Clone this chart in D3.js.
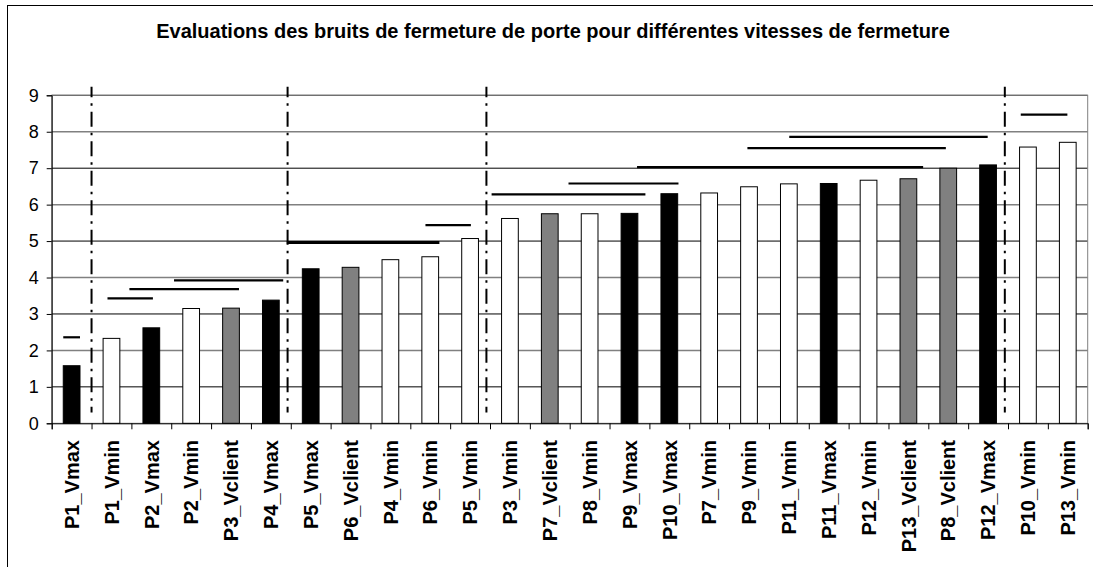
<!DOCTYPE html>
<html>
<head>
<meta charset="utf-8">
<script src="https://cdnjs.cloudflare.com/ajax/libs/d3/7.8.5/d3.min.js"></script>
<style>
  body { margin: 0; background: #fff; }
  text { font-family: Arial, "Liberation Sans", sans-serif; }
</style>
</head>
<body>
<script>
var labels = ["P1_Vmax", "P1_Vmin", "P2_Vmax", "P2_Vmin", "P3_Vclient", "P4_Vmax",
    "P5_Vmax", "P6_Vclient", "P4_Vmin", "P6_Vmin", "P5_Vmin", "P3_Vmin", "P7_Vclient",
    "P8_Vmin", "P9_Vmax", "P10_Vmax", "P7_Vmin", "P9_Vmin", "P11_Vmin", "P11_Vmax",
    "P12_Vmin", "P13_Vclient", "P8_Vclient", "P12_Vmax", "P10_Vmin", "P13_Vmin"];

var values = [1.58, 2.33, 2.62, 3.15, 3.16, 3.38,
    4.24, 4.28, 4.49, 4.57, 5.07, 5.62, 5.75,
    5.75, 5.76, 6.30, 6.32, 6.49, 6.57, 6.58,
    6.67, 6.71, 7.00, 7.09, 7.58, 7.71];

var yTicks = [0, 1, 2, 3, 4, 5, 6, 7, 8, 9];

// groups of equivalent scores: [start, end] in bar positions, and level
var groupStart = [0.29, 1.40, 1.95, 3.07, 5.90, 9.38, 11.04, 12.97, 14.69, 17.46, 18.51, 24.32];
var groupEnd   = [0.71, 2.54, 4.70, 5.81, 9.73, 10.52, 14.90, 15.73, 21.87, 22.44, 23.49, 25.49];
var groupLevel = [2.36, 3.43, 3.68, 3.92, 4.96, 5.44, 6.28, 6.58, 7.03, 7.55, 7.86, 8.47];

// dash-dot separators, in bar positions
var separators = [1.0, 5.92, 10.91, 23.92];

var title = "Evaluations des bruits de fermeture de porte pour différentes vitesses de fermeture";

var plotLeft = 51.7, plotRight = 1087.7, plotTop = 95.3, plotBottom = 423.3;

var svg = d3.select("body").append("svg")
    .attr("width", 1093)
    .attr("height", 567);

// outer chart frame (runs off the picture on the right and bottom)
svg.append("rect")
    .attr("x", 7.5)
    .attr("y", 5.5)
    .attr("width", 1200)
    .attr("height", 700)
    .attr("fill", "none")
    .attr("stroke", "#000");

svg.append("text")
    .attr("x", 553)
    .attr("y", 38)
    .attr("text-anchor", "middle")
    .attr("font-size", 20)
    .attr("font-weight", "bold")
    .text(title);

var x = d3.scaleBand()
    .domain(labels)
    .range([plotLeft, plotRight])
    .paddingInner(0.58)
    .paddingOuter(0.29);

var xPos = d3.scaleLinear()
    .domain([0, labels.length])
    .range([plotLeft, plotRight]);

var y = d3.scaleLinear()
    .domain([0, 9])
    .range([plotBottom, plotTop]);

// gridlines
svg.selectAll("line.grid")
    .data(yTicks.slice(1))
    .enter().append("line")
    .attr("class", "grid")
    .attr("x1", plotLeft)
    .attr("x2", plotRight)
    .attr("y1", function(d){return y(d);})
    .attr("y2", function(d){return y(d);})
    .attr("stroke", function(d){return d % 2 == 0 ? "#808080" : "#000";})
    .attr("stroke-width", function(d){return d % 2 == 0 ? 1.5 : 1;});

// plot area border
svg.append("rect")
    .attr("x", plotLeft)
    .attr("y", plotTop)
    .attr("width", plotRight - plotLeft)
    .attr("height", plotBottom - plotTop)
    .attr("fill", "none")
    .attr("stroke", "#808080");

svg.selectAll("rect.bar")
    .data(values)
    .enter().append("rect")
    .attr("class", "bar")
    .attr("x", function(d, i){return x(labels[i]);})
    .attr("width", x.bandwidth())
    .attr("y", function(d){return y(d);})
    .attr("height", function(d){return plotBottom - y(d);})
    .attr("fill", function(d, i){
        if (labels[i].indexOf("Vmax") > 0) return "#000";
        if (labels[i].indexOf("Vclient") > 0) return "#808080";
        return "#fff";
    })
    .attr("stroke", "#000")
    .attr("stroke-width", 1);

svg.selectAll("line.group")
    .data(groupLevel)
    .enter().append("line")
    .attr("class", "group")
    .attr("x1", function(d, i){return xPos(groupStart[i]);})
    .attr("x2", function(d, i){return xPos(groupEnd[i]);})
    .attr("y1", function(d){return y(d);})
    .attr("y2", function(d){return y(d);})
    .attr("stroke", "#000")
    .attr("stroke-width", function(d, i){return i == 4 ? 3 : 2.2;});

svg.selectAll("line.sep")
    .data(separators)
    .enter().append("line")
    .attr("class", "sep")
    .attr("x1", function(d){return xPos(d);})
    .attr("x2", function(d){return xPos(d);})
    .attr("y1", 86.7)
    .attr("y2", 412.5)
    .attr("stroke", "#000")
    .attr("stroke-width", 2)
    .attr("stroke-dasharray", "15,6,2.5,6")
    .attr("stroke-dashoffset", 4.4);

var yAxis = d3.axisLeft(y)
    .tickValues(yTicks)
    .tickSize(5)
    .tickPadding(8)
    .tickFormat(d3.format("d"));

svg.append("g")
    .attr("transform", "translate(" + plotLeft + ",0)")
    .call(yAxis)
    .call(function(g){
        g.select(".domain").attr("stroke", "#000");
        g.selectAll("text")
            .attr("font-size", 18)
            .attr("fill", "#000")
            .style("font-family", "Arial, 'Liberation Sans', sans-serif");
    });

var xAxis = d3.axisBottom(xPos)
    .tickValues(d3.range(0, labels.length + 1))
    .tickSize(6)
    .tickFormat("");

svg.append("g")
    .attr("transform", "translate(0," + plotBottom + ")")
    .call(xAxis)
    .call(function(g){
        g.select(".domain").attr("stroke", "#000");
    });

svg.selectAll("text.xlab")
    .data(labels)
    .enter().append("text")
    .attr("class", "xlab")
    .attr("transform", function(d){
        return "translate(" + (x(d) + x.bandwidth() / 2) + ",440) rotate(-90)";
    })
    .attr("text-anchor", "end")
    .attr("dy", "0.36em")
    .attr("font-size", 20)
    .attr("font-weight", "bold")
    .text(function(d){return d;});
</script>
</body>
</html>
